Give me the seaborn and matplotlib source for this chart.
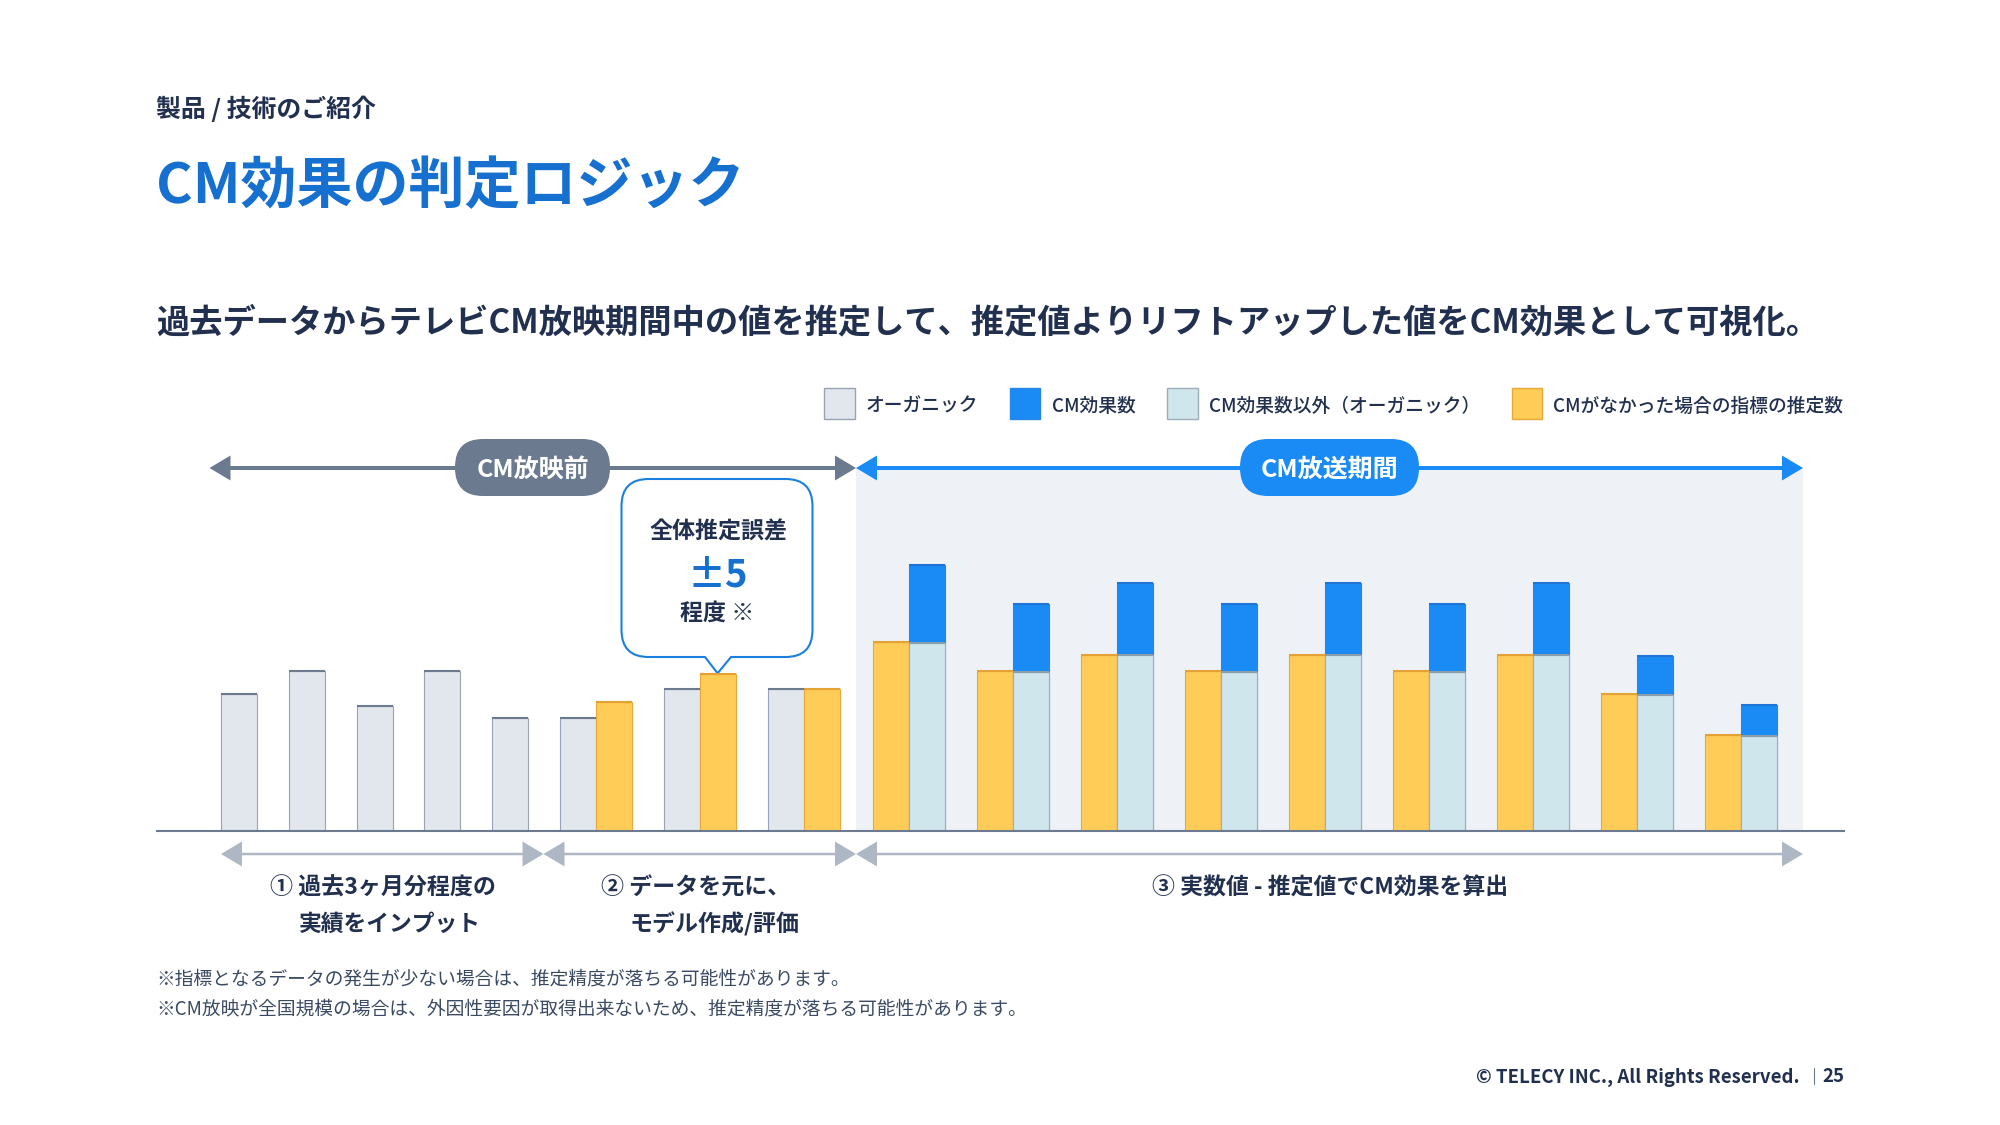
"""Recreate the CM effect logic slide as a seaborn bar chart."""

import matplotlib
matplotlib.use("Agg")
import matplotlib.pyplot as plt
import numpy as np
import seaborn as sns
from matplotlib.patches import FancyBboxPatch, PathPatch, Polygon, Rectangle
from matplotlib.path import Path as MplPath

# values (bar height, pixels above the baseline)
organic_before = [137, 160, 125, 160, 113, 113, 142, 142]
estimate_before = [129, 157, 142]
estimate_during = [189, 160, 176, 160, 176, 160, 176, 137, 96]
organic_during = [188, 159, 176, 159, 176, 159, 176, 136, 95]
cm_effect = [78, 68, 72, 68, 72, 68, 72, 39, 31]

legend_labels = ["オーガニック", "CM効果数", "CM効果数以外（オーガニック）", "CMがなかった場合の指標の推定数"]

NAVY = "#22304F"
TITLE_BLUE = "#1670D0"
BLUE = "#1A8BF5"
SLATE = "#6B7A8F"
PALE_ARROW = "#AEB7C4"
GRAY_FACE, GRAY_EDGE = "#E2E6ED", "#98A3B5"
YELLOW_FACE, YELLOW_EDGE = "#FFCC57", "#E8A93A"
LIGHT_FACE, LIGHT_EDGE = "#CFE6EC", "#9DABBB"
BLUE_EDGE = "#2A86E6"
BAR_W = 36

sns.set_theme(style="white")
plt.rcParams["font.family"] = ["Noto Sans CJK JP", "DejaVu Sans"]

fig = plt.figure(figsize=(20, 11.25), dpi=100, facecolor="white")

# overlay in pixel coordinates for the slide furniture
deco = fig.add_axes([0, 0, 1, 1], zorder=0)
deco.set_xlim(0, 2000)
deco.set_ylim(1125, 0)
deco.axis("off")

# bar axes: x in slide pixels, baseline at the bottom spine
ax = fig.add_axes([157 / 2000, (1125 - 831) / 1125, (1844 - 157) / 2000, 340 / 1125], zorder=1)
ax.patch.set_alpha(0)


def draw_bars(xs, values, face, edge, top):
    xs = np.asarray(xs, dtype=float)
    spacing = np.diff(xs).min()
    before = len(ax.patches)
    sns.barplot(x=xs, y=values, orient="x", native_scale=True, width=BAR_W / spacing,
                color=face, saturation=1, edgecolor=edge, linewidth=0.8, errorbar=None, ax=ax)
    # the reference bars carry a heavier, darker top edge
    for bar in ax.patches[before:]:
        ax.hlines(bar.get_height(), bar.get_x(), bar.get_x() + bar.get_width(), color=top, lw=1.5, zorder=3)


organic_x = np.r_[239 + 67.8 * np.arange(6), 682, 786.3]
estimate_x = np.array([614.2, 718.3, 822.2])
group_x = 908.6 + 104.1 * np.arange(len(estimate_during))

draw_bars(organic_x, organic_before, GRAY_FACE, GRAY_EDGE, SLATE)
draw_bars(estimate_x, estimate_before, YELLOW_FACE, YELLOW_EDGE, "#E3A233")
draw_bars(group_x - BAR_W / 2, estimate_during, YELLOW_FACE, YELLOW_EDGE, "#E3A233")
# blue sits on the organic part, so the full stack goes down first
draw_bars(group_x + BAR_W / 2, np.add(organic_during, cm_effect), BLUE, BLUE_EDGE, "#1F74D6")
draw_bars(group_x + BAR_W / 2, organic_during, LIGHT_FACE, LIGHT_EDGE, "#8C9DAE")

ax.set_xlim(157, 1844)
ax.set_ylim(0, 340)
ax.set(xlabel="", ylabel="", xticks=[], yticks=[])
sns.despine(ax=ax, left=True)
ax.spines["bottom"].set_color(SLATE)
ax.spines["bottom"].set_linewidth(1.5)
ax.spines["bottom"].set_zorder(5)


def label(x, y, s, size_px, color=NAVY, weight="bold", ha="left"):
    deco.text(x, y, s, fontsize=size_px * 0.72, color=color, fontweight=weight,
              ha=ha, va="center")


def double_arrow(x0, x1, y, color, line_px, head_len=21, head_half=12.5):
    deco.plot([x0 + head_len - 1, x1 - head_len + 1], [y, y], color=color, lw=line_px * 0.72,
              solid_capstyle="butt", zorder=3)
    deco.add_patch(Polygon([(x0, y), (x0 + head_len, y - head_half), (x0 + head_len, y + head_half)],
                           fc=color, ec="none", zorder=3))
    deco.add_patch(Polygon([(x1, y), (x1 - head_len, y - head_half), (x1 - head_len, y + head_half)],
                           fc=color, ec="none", zorder=3))


def pill(x0, x1, y0, y1, color, s):
    deco.add_patch(FancyBboxPatch((x0, y0), x1 - x0, y1 - y0,
                                  boxstyle="round,pad=0,rounding_size=28",
                                  fc=color, ec="none", zorder=4))
    deco.text((x0 + x1) / 2, (y0 + y1) / 2 + 2, s, color="white", fontsize=25 * 0.72,
              fontweight="bold", ha="center", va="center", zorder=5)


# heading block
label(156, 109, "製品 / 技術のご紹介", 24.9)
label(156, 187, "CM効果の判定ロジック", 56, color=TITLE_BLUE)
label(156, 323, "過去データからテレビCM放映期間中の値を推定して、推定値よりリフトアップした値をCM効果として可視化。", 33.25)

# legend row
swatches = [(824, GRAY_FACE, GRAY_EDGE), (1009.5, BLUE, BLUE_EDGE),
            (1167, LIGHT_FACE, LIGHT_EDGE), (1511.5, YELLOW_FACE, YELLOW_EDGE)]
text_x = [866, 1052, 1209, 1553.5]
for (sx, face, edge), tx, name in zip(swatches, text_x, legend_labels):
    deco.add_patch(Rectangle((sx, 388), 30.5, 31, fc=face, ec=edge, lw=1))
    label(tx, 406, name, 18.75, weight="medium")

# period band, period arrows and pills
deco.add_patch(Rectangle((856, 468), 947, 363, fc="#EEF2F6", ec="none", zorder=1))
double_arrow(209.5, 856, 468, SLATE, 4)
double_arrow(856, 1803, 468, BLUE, 4)
pill(455, 610, 439, 496, SLATE, "CM放映前")
pill(1240, 1419, 439, 496, BLUE, "CM放送期間")

# callout
L, R, T, B, r = 621.5, 812.5, 479, 657, 27
tip_x, tip_y, n0, n1 = 717.6, 673.3, 705, 731
verts = [(L + r, T), (R - r, T), (R, T), (R, T + r), (R, B - r), (R, B), (R - r, B),
         (n1, B), (tip_x, tip_y), (n0, B), (L + r, B), (L, B), (L, B - r), (L, T + r), (L, T), (L + r, T),
         (L + r, T)]
codes = [MplPath.MOVETO, MplPath.LINETO, MplPath.CURVE3, MplPath.CURVE3, MplPath.LINETO, MplPath.CURVE3,
         MplPath.CURVE3, MplPath.LINETO, MplPath.LINETO, MplPath.LINETO, MplPath.LINETO, MplPath.CURVE3,
         MplPath.CURVE3, MplPath.LINETO, MplPath.CURVE3, MplPath.CURVE3, MplPath.CLOSEPOLY]
deco.add_patch(PathPatch(MplPath(verts, codes), fc="white", ec="#1A80E0", lw=1.5, zorder=2))
deco.text(718.5, 532, "全体推定誤差", fontsize=23 * 0.72, color=NAVY, fontweight="bold", ha="center", va="center", zorder=3)
deco.text(718, 575, "±5", fontsize=38 * 0.72, color=TITLE_BLUE, fontweight="bold", ha="center", va="center", zorder=3)
deco.text(717.5, 613, "程度 ※", fontsize=23 * 0.72, color=NAVY, fontweight="bold", ha="center", va="center", zorder=3)

# step arrows and captions under the baseline
double_arrow(221, 543.5, 854, PALE_ARROW, 2.5)
double_arrow(543.5, 856, 854, PALE_ARROW, 2.5)
double_arrow(856, 1803, 854, PALE_ARROW, 2.5)
label(270, 888, "① 過去3ヶ月分程度の", 23)
label(299, 924, "実績をインプット", 22.8)
label(601, 888, "② データを元に、", 23)
label(630, 924, "モデル作成/評価", 23)
label(1152, 888, "③ 実数値 - 推定値でCM効果を算出", 22.9)

# footnotes and footer
label(156, 979, "※指標となるデータの発生が少ない場合は、推定精度が落ちる可能性があります。", 18.75, color="#3A4A63", weight="normal")
label(156, 1009, "※CM放映が全国規模の場合は、外因性要因が取得出来ないため、推定精度が落ちる可能性があります。", 18.75, color="#3A4A63", weight="normal")
label(1800, 1077, "© TELECY INC., All Rights Reserved.", 18.6, ha="right")
deco.plot([1814, 1814], [1068, 1084], color=SLATE, lw=0.8)
label(1845, 1077, "25", 18.6, ha="right")

fig.savefig("out.png", dpi=100)
